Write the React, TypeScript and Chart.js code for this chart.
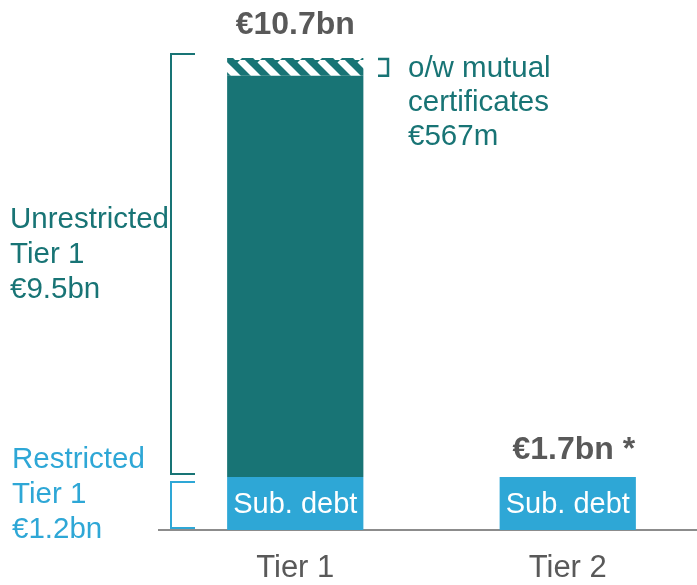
import React, { useEffect, useRef } from "react";
import { Chart, registerables } from "chart.js";

Chart.register(...registerables);

const categories = ["Tier 1", "Tier 2"];
const subDebt = [1.2, 1.2];
const unrestrictedSolid = [9.1, 0];
const mutualCertificates = [0.4, 0];
const totalLabels = ["€10.7bn", "€1.7bn *"];
const barText = "Sub. debt";
const unrestrictedLabel = ["Unrestricted", "Tier 1", "€9.5bn"];
const restrictedLabel = ["Restricted", "Tier 1", "€1.2bn"];
const mutualLabel = ["o/w mutual", "certificates", "€567m"];

const TEAL = "#187475";
const BLUE = "#2ea7d6";
const GRAY = "#595959";
const FONT = "'Liberation Sans', Arial, sans-serif";

function makePattern(): CanvasPattern | string {
  const s = 20;
  const c = document.createElement("canvas");
  c.width = s;
  c.height = s;
  const ctx = c.getContext("2d");
  if (!ctx) return TEAL;
  ctx.fillStyle = TEAL;
  ctx.fillRect(0, 0, s, s);
  ctx.strokeStyle = "#ffffff";
  ctx.lineWidth = 7;
  for (const k of [-s, 0, s]) {
    ctx.beginPath();
    ctx.moveTo(k, 0);
    ctx.lineTo(k + s, s);
    ctx.stroke();
  }
  return ctx.createPattern(c, "repeat") || TEAL;
}

const annotations = {
  id: "annotations",
  afterDatasetsDraw(chart: any) {
    const { ctx } = chart;
    const y = chart.scales.y;
    const sub = chart.getDatasetMeta(0).data;
    ctx.save();

    // Sub. debt text
    ctx.font = `29px ${FONT}`;
    ctx.fillStyle = "#ffffff";
    ctx.textAlign = "center";
    ctx.textBaseline = "middle";
    sub.forEach((bar: any) => {
      ctx.fillText(barText, bar.x, (bar.y + bar.base) / 2 + 1);
    });

    // Totals
    ctx.font = `bold 32px ${FONT}`;
    ctx.fillStyle = GRAY;
    ctx.textBaseline = "alphabetic";
    categories.forEach((_, i) => {
      const t = subDebt[i] + unrestrictedSolid[i] + mutualCertificates[i];
      const x = sub[i].x;
      const py = y.getPixelForValue(t);
      ctx.fillText(totalLabels[i], x + (i === 1 ? 6 : 0), py - (i === 0 ? 24 : 18));
    });

    // Brackets
    const total0 = subDebt[0] + unrestrictedSolid[0] + mutualCertificates[0];
    const yTop = y.getPixelForValue(total0);
    const ySub = y.getPixelForValue(subDebt[0]);
    const yZero = y.getPixelForValue(0);
    const yMut = y.getPixelForValue(total0 - mutualCertificates[0]);
    const bx = 171;
    const bx2 = 195;
    ctx.lineWidth = 2;
    ctx.strokeStyle = TEAL;
    ctx.beginPath();
    ctx.moveTo(bx2, yTop - 4);
    ctx.lineTo(bx, yTop - 4);
    ctx.lineTo(bx, ySub - 3);
    ctx.lineTo(bx2, ySub - 3);
    ctx.stroke();
    ctx.strokeStyle = BLUE;
    ctx.beginPath();
    ctx.moveTo(bx2, ySub + 5);
    ctx.lineTo(bx, ySub + 5);
    ctx.lineTo(bx, yZero - 2);
    ctx.lineTo(bx2, yZero - 2);
    ctx.stroke();
    // mutual bracket
    ctx.strokeStyle = TEAL;
    ctx.lineWidth = 2.5;
    ctx.beginPath();
    ctx.moveTo(378, yTop + 1);
    ctx.lineTo(388, yTop + 1);
    ctx.lineTo(388, yMut);
    ctx.lineTo(378, yMut);
    ctx.stroke();

    // Side labels
    ctx.font = `29.5px ${FONT}`;
    ctx.textAlign = "left";
    ctx.textBaseline = "alphabetic";
    ctx.fillStyle = TEAL;
    unrestrictedLabel.forEach((t, i) => ctx.fillText(t, 10, 228 + i * 35));
    mutualLabel.forEach((t, i) => ctx.fillText(t, 408, 77 + i * 34));
    ctx.fillStyle = BLUE;
    restrictedLabel.forEach((t, i) => ctx.fillText(t, 12, 468 + i * 35));

    ctx.restore();
  },
};

export default function App() {
  const ref = useRef<HTMLCanvasElement | null>(null);
  useEffect(() => {
    if (!ref.current) return;
    const chart = new Chart(ref.current, {
      type: "bar",
      data: {
        labels: categories,
        datasets: [
          { label: "Sub. debt", data: subDebt, backgroundColor: BLUE, borderWidth: 0 },
          { label: "Unrestricted Tier 1", data: unrestrictedSolid, backgroundColor: TEAL, borderWidth: 0 },
          { label: "Mutual certificates", data: mutualCertificates, backgroundColor: makePattern() as any, borderWidth: 0 },
        ],
      },
      options: {
        responsive: false,
        animation: false,
        devicePixelRatio: 1,
        layout: { padding: { left: 159, right: 0, top: 58, bottom: 0 } },
        datasets: { bar: { barPercentage: 0.5, categoryPercentage: 1 } },
        plugins: { legend: { display: false }, tooltip: { enabled: false } },
        scales: {
          x: {
            stacked: true,
            grid: { display: false, drawTicks: false },
            border: { display: true, color: "#8c8c8c", width: 2 },
            ticks: { color: GRAY, font: { family: FONT, size: 31 }, padding: 20 },
            afterFit: (scale: any) => {
              scale.height = 55;
            },
          },
          y: { stacked: true, display: false, min: 0, max: 10.7 },
        },
      },
      plugins: [annotations],
    } as any);
    return () => chart.destroy();
  }, []);
  return (
    <div style={{ position: "fixed", left: 0, top: 0, width: 704, height: 585, background: "#fff" }}>
      <canvas ref={ref} width={704} height={585} style={{ display: "block" }} />
    </div>
  );
}
